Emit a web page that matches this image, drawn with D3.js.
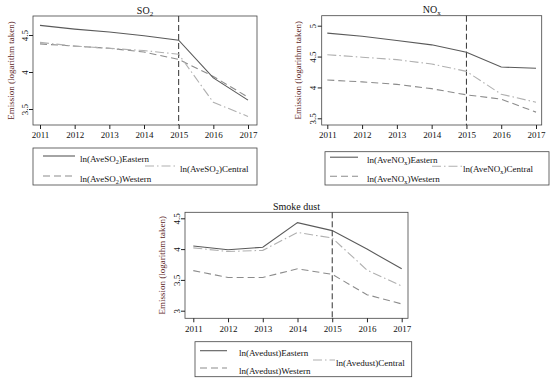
<!DOCTYPE html>
<html>
<head>
<meta charset="utf-8">
<script src="https://cdn.jsdelivr.net/npm/d3@7"></script>
<style>
  body { margin: 0; background: #fff; }
  svg { display: block; font-family: "Liberation Serif", "Times New Roman", serif; }
</style>
</head>
<body>
<svg id="chart"></svg>
<script>
const years = [2011, 2012, 2013, 2014, 2015, 2016, 2017];
const policyYear = 2015;

// ln values
const so2Eastern = [4.63, 4.58, 4.54, 4.49, 4.43, 3.92, 3.62];
const so2Central = [4.40, 4.35, 4.32, 4.29, 4.24, 3.59, 3.40];
const so2Western = [4.38, 4.35, 4.32, 4.27, 4.17, 3.94, 3.66];

const noxEastern = [4.88, 4.83, 4.76, 4.69, 4.57, 4.33, 4.31];
const noxCentral = [4.53, 4.49, 4.45, 4.38, 4.26, 3.89, 3.76];
const noxWestern = [4.12, 4.09, 4.05, 3.98, 3.88, 3.81, 3.60];

const dustEastern = [4.05, 3.99, 4.03, 4.43, 4.30, 4.00, 3.68];
const dustCentral = [4.02, 3.96, 3.98, 4.27, 4.18, 3.66, 3.40];
const dustWestern = [3.65, 3.54, 3.54, 3.68, 3.59, 3.26, 3.11];

const so2Ticks = [3.5, 4, 4.5];
const noxTicks = [3.5, 4, 4.5, 5];
const dustTicks = [3, 3.5, 4, 4.5];

const yTitle = 'Emission (logarithm taken)';

const styles = {
  Eastern: { color: '#5a5a5a', dash: null },
  Central: { color: '#b0b0b0', dash: '9,3,1.5,3' },
  Western: { color: '#8c8c8c', dash: '7,4' },
};

const width = 550, height = 385;
const svg = d3.select('#chart').attr('width', width).attr('height', height);

// text with a subscript part: parts = [[text, isSub], ...]
function richText(sel, parts, size) {
  parts.forEach(([t, sub]) => {
    sel.append('tspan')
      .attr('font-size', sub ? size * 0.7 : size)
      .attr('baseline-shift', sub ? '-25%' : null)
      .text(t);
  });
}

const panels = [
  {
    title: [['SO', false], ['2', true]], pollutant: 'SO', sub: '2',
    series: { Eastern: so2Eastern, Central: so2Central, Western: so2Western },
    ticks: so2Ticks,
    box: [33, 16, 257, 125], xr: [40, 248], yd: [3.5, 4.5], yr: [109, 35], yTitleX: 10.5,
    legend: { box: [33, 148, 257, 185], line: [10, 42], text: 47, cLine: [112, 144], cText: 147, ys: [8, 18, 28] },
  },
  {
    title: [['NO', false], ['x', true]], pollutant: 'NO', sub: 'x',
    series: { Eastern: noxEastern, Central: noxCentral, Western: noxWestern },
    ticks: noxTicks,
    box: [321.7, 15.7, 541.7, 125], xr: [327.3, 536], yd: [3.5, 5], yr: [118.3, 25.7], yTitleX: 298,
    legend: { box: [325, 151.7, 549, 185], line: [5, 33], text: 42, cLine: [107, 137], cText: 138, ys: [5.5, 14.5, 24.5] },
  },
  {
    title: [['Smoke dust', false]], pollutant: 'dust', sub: null,
    series: { Eastern: dustEastern, Central: dustCentral, Western: dustWestern },
    ticks: dustTicks,
    box: [185, 212.3, 408, 318.3], xr: [193.3, 401.7], yd: [3, 4.5], yr: [310.7, 218.3], yTitleX: 162,
    legend: { box: [195, 341.7, 411.7, 376.7], line: [5, 32], text: 44, cLine: [118, 140], cText: 141, ys: [9, 18.3, 26.3] },
  },
];

panels.forEach((p) => {
  const g = svg.append('g');
  const [bx0, by0, bx1, by1] = p.box;
  const x = d3.scaleLinear([years[0], years[years.length - 1]], p.xr);
  const y = d3.scaleLinear(p.yd, p.yr);

  // plot frame
  g.append('rect')
    .attr('x', bx0).attr('y', by0)
    .attr('width', bx1 - bx0).attr('height', by1 - by0)
    .attr('fill', 'none').attr('stroke', '#444').attr('stroke-width', 0.8);

  // title
  richText(
    g.append('text').attr('x', (bx0 + bx1) / 2).attr('y', by0 - 2.5)
      .attr('text-anchor', 'middle').attr('fill', '#111'),
    p.title, 10
  );

  // x axis
  const xAxis = d3.axisBottom(x).tickValues(years).tickFormat(d3.format('d')).tickSize(4).tickPadding(3);
  g.append('g')
    .attr('transform', `translate(0,${by1})`)
    .call(xAxis)
    .call((a) => a.select('.domain').remove())
    .call((a) => a.selectAll('.tick line').attr('stroke', '#222'))
    .call((a) => a.selectAll('.tick text').attr('font-size', 9).attr('font-family', 'Liberation Serif, serif').attr('fill', '#111'));

  // y axis, labels turned sideways like the original
  const yAxis = d3.axisLeft(y).tickValues(p.ticks).tickFormat((d) => String(d)).tickSize(4);
  g.append('g')
    .attr('transform', `translate(${bx0},0)`)
    .call(yAxis)
    .call((a) => a.select('.domain').remove())
    .call((a) => a.selectAll('.tick line').attr('stroke', '#222'))
    .call((a) => a.selectAll('.tick text')
      .attr('font-size', 9).attr('font-family', 'Liberation Serif, serif').attr('fill', '#111')
      .attr('text-anchor', 'middle')
      .attr('x', 0).attr('y', 0).attr('dy', null)
      .attr('transform', 'translate(-5.5,0) rotate(-90)'));

  // y axis title
  g.append('text')
    .attr('transform', `translate(${p.yTitleX},${(by0 + by1) / 2}) rotate(-90)`)
    .attr('text-anchor', 'middle')
    .attr('dy', '0.35em')
    .attr('font-size', 9)
    .attr('fill', '#5c2626')
    .text(yTitle);

  // policy line
  g.append('line')
    .attr('x1', x(policyYear)).attr('x2', x(policyYear))
    .attr('y1', by0).attr('y2', by1)
    .attr('stroke', '#333').attr('stroke-width', 1)
    .attr('stroke-dasharray', '6,3');

  // series
  const line = d3.line().x((d, i) => x(years[i])).y((d) => y(d));
  ['Western', 'Central', 'Eastern'].forEach((k) => {
    g.append('path')
      .attr('d', line(p.series[k]))
      .attr('fill', 'none')
      .attr('stroke', styles[k].color)
      .attr('stroke-width', 1.1)
      .attr('stroke-dasharray', styles[k].dash);
  });

  // legend
  const L = p.legend;
  const [lx0, ly0, lx1, ly1] = L.box;
  const lg = g.append('g').attr('transform', `translate(${lx0},${ly0})`);
  lg.append('rect').attr('width', lx1 - lx0).attr('height', ly1 - ly0)
    .attr('fill', 'none').attr('stroke', '#444').attr('stroke-width', 0.8);
  const entries = [
    { k: 'Eastern', x0: L.line[0], x1: L.line[1], tx: L.text, y: L.ys[0] },
    { k: 'Central', x0: L.cLine[0], x1: L.cLine[1], tx: L.cText, y: L.ys[1] },
    { k: 'Western', x0: L.line[0], x1: L.line[1], tx: L.text, y: L.ys[2] },
  ];
  entries.forEach((e) => {
    lg.append('line')
      .attr('x1', e.x0).attr('x2', e.x1).attr('y1', e.y).attr('y2', e.y)
      .attr('stroke', styles[e.k].color).attr('stroke-width', 1.1)
      .attr('stroke-dasharray', styles[e.k].dash);
    const parts = p.sub
      ? [['ln(Ave' + p.pollutant, false], [p.sub, true], [')' + e.k, false]]
      : [['ln(Ave' + p.pollutant + ')' + e.k, false]];
    richText(
      lg.append('text').attr('x', e.tx).attr('y', e.y).attr('dy', '0.35em').attr('fill', '#111'),
      parts, 9
    );
  });
});
</script>
</body>
</html>
